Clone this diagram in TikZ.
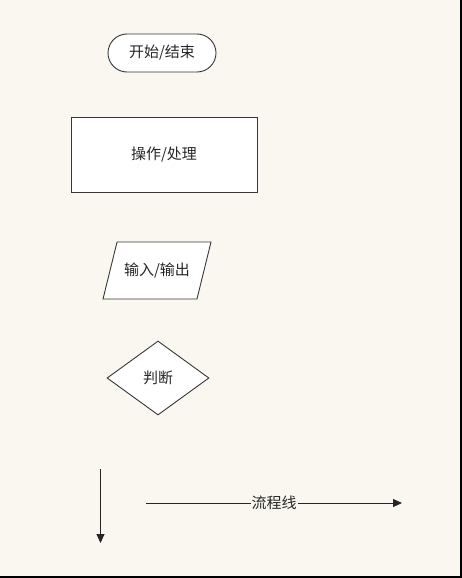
\documentclass[tikz,border=0pt]{standalone}
\usepackage{fontspec}
\newfontfamily\cjk{Noto Sans CJK SC}
\usetikzlibrary{shapes.geometric,shapes.misc,arrows.meta}
\definecolor{paper}{RGB}{250,247,240}
\definecolor{edge}{RGB}{55,55,55}

\begin{document}
\begin{tikzpicture}[x=1pt,y=-1pt,
  shapebox/.style={draw=edge, line width=0.9pt, fill=white, text=black!85,
    font=\cjk\fontsize{15}{17}\selectfont, inner sep=2pt},
  flowline/.style={draw=black!85, line width=0.9pt, -{Triangle[length=9pt,width=8pt]}},
  flowtext/.style={fill=paper, inner sep=1pt, text=black!85, font=\cjk\fontsize{15}{17}\selectfont}]

% Background and frame
\fill[paper] (0,0) rectangle (462,578);
\useasboundingbox (0,0) rectangle (462,578);
\draw[black, line width=1.6pt] (461.2,0) -- (461.2,577.2) -- (0,577.2);

% Terminal
\node[shapebox, rounded rectangle, minimum width=112pt, minimum height=38pt] (term) at (162,53) {开始/结束};

% Process
\node[shapebox, rectangle, minimum width=186pt, minimum height=75pt] (proc) at (164,154.5) {操作/处理};

% Input / output
\node[shapebox, trapezium, trapezium stretches body, trapezium left angle=76, trapezium right angle=104,
  inner ysep=20.5pt, minimum width=108pt, minimum height=57pt] (io) at (157,270.5) {输入/输出};

% Decision
\node[shapebox, diamond, minimum width=102pt, minimum height=74pt] (dec) at (158,378) {判断};

% Flow lines
\coordinate (vtop) at (100.5,469);
\coordinate (vend) at (100.5,543);
\draw[flowline] (vtop) -- (vend);

\coordinate (hstart) at (146,503);
\coordinate (hend) at (402,503);
\draw[flowline] (hstart) -- (hend) node[flowtext, pos=0.5] (flow) {流程线};

\end{tikzpicture}
\end{document}
